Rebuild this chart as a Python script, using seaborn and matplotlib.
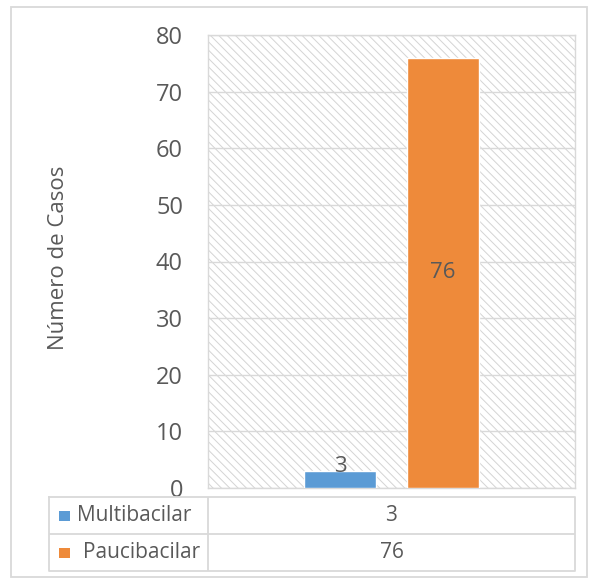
import matplotlib
matplotlib.use("Agg")
import matplotlib.pyplot as plt
from matplotlib.patches import Rectangle
import seaborn as sns
import pandas as pd

# Data
grupo = [""]
tipos = ["Multibacilar", "Paucibacilar"]
casos = [3, 76]
colores = ["#5B9BD5", "#EE8A3A"]
y_ticks = [0, 10, 20, 30, 40, 50, 60, 70, 80]

sns.set_theme(style="white")
plt.rcParams["font.family"] = ["Open Sans", "DejaVu Sans"]
plt.rcParams["hatch.color"] = "#d4d4d4"
plt.rcParams["hatch.linewidth"] = 0.7

TXT = "#595959"
GRID = "#d9d9d9"

df = pd.DataFrame({"grupo": grupo * len(tipos), "tipo": tipos, "casos": casos})

W, H = 590, 580
fig = plt.figure(figsize=(W / 100, H / 100), dpi=100)

# outer chart frame
fig.patches.append(Rectangle((11 / W, 1 - 577 / H), 576 / W, 570 / H,
                             transform=fig.transFigure, facecolor="white",
                             edgecolor=GRID, lw=1.3, zorder=-5))

ax = fig.add_axes([208 / W, 1 - 488 / H, 367 / W, 453 / H])
ax.set_facecolor("white")
ax.add_patch(Rectangle((0, 0), 1, 1, transform=ax.transAxes, facecolor="white",
                       edgecolor="#d4d4d4", hatch="\\\\\\\\", lw=0, zorder=0))

sns.barplot(data=df, x="grupo", y="casos", hue="tipo", palette=colores,
            width=0.562, gap=0.31, saturation=1, legend=False, ax=ax, zorder=3)

ax.set_xlim(-0.5, 0.5)
ax.set_ylim(0, 80)
ax.set_yticks(y_ticks)
ax.set_yticklabels([str(t) for t in y_ticks], fontsize=17, color=TXT)
ax.tick_params(axis="y", length=0, pad=18)
ax.set_xticks([])
ax.set_xlabel("")
ax.set_ylabel("")
ax.grid(axis="y", color=GRID, lw=1.0, zorder=1)
ax.set_axisbelow(True)
for s in ax.spines.values():
    s.set_color(GRID)
    s.set_linewidth(1.0)

# value labels
for cont, val in zip(ax.containers, casos):
    if val > 10:
        ax.bar_label(cont, labels=[str(val)], label_type="center",
                     fontsize=16, color=TXT)
    else:
        ax.bar_label(cont, labels=[str(val)], label_type="edge", padding=-4,
                     fontsize=16, color=TXT)

fig.text(59 / W, 1 - 258 / H, "Número de Casos", rotation=90, ha="center",
         va="center", fontsize=16, color=TXT)

# data table beneath the axes
tx0, tx1, ty0, ty1 = 49, 575, 497, 571
tdiv_x, tdiv_y = 208, 534
tab = fig.add_axes([tx0 / W, 1 - ty1 / H, (tx1 - tx0) / W, (ty1 - ty0) / H])
tab.set_xlim(tx0, tx1)
tab.set_ylim(ty1, ty0)
tab.axis("off")
lc = GRID
tab.plot([tx0, tx1, tx1, tx0, tx0], [ty0, ty0, ty1, ty1, ty0], color=lc, lw=1.3,
         clip_on=False)
tab.plot([tdiv_x, tdiv_x], [ty0, ty1], color=lc, lw=1.3)
tab.plot([tx0, tx1], [tdiv_y, tdiv_y], color=lc, lw=1.3)

rows_y = [(ty0 + tdiv_y) / 2, (tdiv_y + ty1) / 2]
sq_x = [59, 59]
txt_x = [77, 83]
for yy, sx, tx, nombre, val, col in zip(rows_y, sq_x, txt_x, tipos, casos, colores):
    tab.add_patch(Rectangle((sx, yy - 5), 10.5, 10.5, facecolor=col,
                            edgecolor="none"))
    tab.text(tx, yy, nombre, ha="left", va="center", fontsize=15, color=TXT)
    tab.text((tdiv_x + tx1) / 2, yy, str(val), ha="center", va="center",
             fontsize=15, color=TXT)

fig.savefig("out.png", dpi=100, facecolor="white")
